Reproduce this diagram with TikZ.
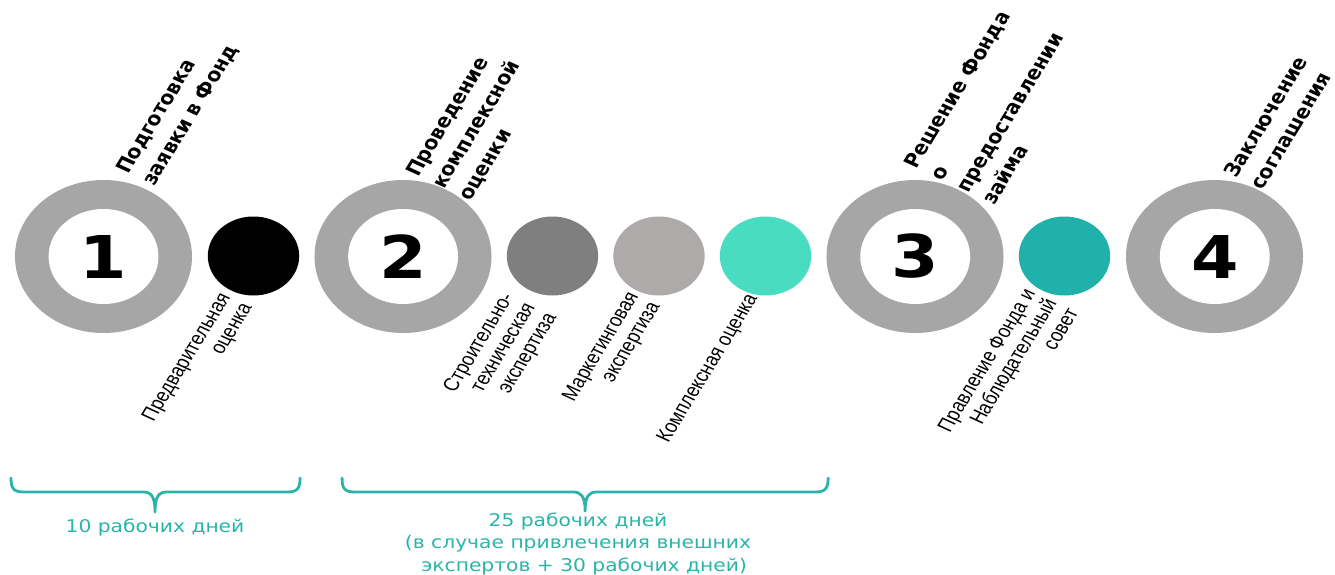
\documentclass[tikz,border=0pt]{standalone}
\usepackage{fontspec}
\setmainfont{DejaVu Sans}
\newfontfamily\labfont[FakeStretch=0.9]{Liberation Sans}
\newfontfamily\headfont[FakeStretch=1.0]{DejaVu Sans Bold}
\definecolor{ringgrey}{HTML}{A6A6A6}
\definecolor{dgrey}{HTML}{7F7F7F}
\definecolor{lgrey}{HTML}{AEAAAA}
\definecolor{aqua}{HTML}{48DDC0}
\definecolor{tealc}{HTML}{20B2AA}
\definecolor{bracec}{HTML}{2AB4A8}
\begin{document}
\begin{tikzpicture}[x=0.864304pt, y=-1pt]
\begin{scope}[xscale=1.157, every node/.append style={transform shape},
  ring/.style={circle, fill=ringgrey, minimum size=153pt, inner sep=0pt},
  hole/.style={circle, fill=white, minimum size=95pt, inner sep=0pt,
    font=\fontsize{59}{59}\selectfont\bfseries},
  dot/.style={circle, minimum size=79pt, inner sep=0pt},
  head/.style={rotate=62, anchor=base west, inner sep=0pt,
    font=\headfont\fontsize{18.5}{25.5}\selectfont},
  lab/.style={rotate=62, anchor=base east, inner sep=0pt,
    font=\labfont\fontsize{19}{21}\selectfont},
  days/.style={text=bracec, anchor=base, inner sep=0pt,
    font=\fontsize{17.5}{22.5}\selectfont},
  brace/.style={draw=bracec, line width=2.8pt, line cap=round, line join=round}]
\useasboundingbox (0,0) rectangle (1335,575);

% rings and numbers
\node[ring] (r1) at (103.5,256.5) {};
\node[hole] (n1) at (r1.center) {1};
\node[ring] (r2) at (403,256.5) {};
\node[hole] (n2) at (r2.center) {2};
\node[ring] (r3) at (915,256.5) {};
\node[hole] (n3) at (r3.center) {3};
\node[ring] (r4) at (1214.5,256.5) {};
\node[hole] (n4) at (r4.center) {4};

% small dots
\node[dot, fill=black] (d1) at (253.5,256) {};
\node[dot, fill=dgrey] (d2) at (552.5,256) {};
\node[dot, fill=lgrey] (d3) at (659,256) {};
\node[dot, fill=aqua] (d4) at (765.5,256) {};
\node[dot, fill=tealc] (d5) at (1064.5,256) {};

% headings
\node[head] (h1) at (128,175) {\begin{tabular}[t]{@{}l@{}}Подготовка\\заявки в Фонд\end{tabular}};
\node[head] (h2) at (418,178) {\begin{tabular}[t]{@{}l@{}}Проведение\\комплексной\\оценки\end{tabular}};
\node[head] (h3) at (916,170) {\begin{tabular}[t]{@{}l@{}}Решение Фонда\\о\\предоставлении\\займа\end{tabular}};
\node[head] (h4) at (1236,179) {\begin{tabular}[t]{@{}l@{}}Заключение\\соглашения\end{tabular}};

% labels
\node[lab] (l1) at (231,297) {\begin{tabular}[t]{@{}r@{}}Предварительная\\оценка\end{tabular}};
\node[lab] (l2) at (514,297) {\begin{tabular}[t]{@{}r@{}}Строительно-\\техническая\\экспертиза\end{tabular}};
\node[lab] (l3) at (639,296) {\begin{tabular}[t]{@{}r@{}}Маркетинговая\\экспертиза\end{tabular}};
\node[lab] (l4) at (758,298) {Комплексная оценка};
\node[lab] (l5) at (1036,293) {\begin{tabular}[t]{@{}r@{}}Правление Фонда и\\Наблюдательный\\совет\end{tabular}};

% braces
\coordinate (b1l) at (11,478);
\coordinate (b1t) at (155,512);
\coordinate (b1r) at (300,478);
\draw[brace] (b1l) .. controls (11,489) and (14,492) .. (24,492) -- (143,492)
  .. controls (151,492) and (155,496) .. (b1t)
  .. controls (155,496) and (159,492) .. (167,492) -- (287,492)
  .. controls (297,492) and (300,489) .. (b1r);
\coordinate (b2l) at (342,478);
\coordinate (b2t) at (585,511);
\coordinate (b2r) at (828,478);
\draw[brace] (b2l) .. controls (342,489) and (345,492) .. (355,492) -- (573,492)
  .. controls (581,492) and (585,496) .. (b2t)
  .. controls (585,496) and (589,492) .. (597,492) -- (815,492)
  .. controls (825,492) and (828,489) .. (b2r);

% durations
\node[days] (t1) at (155,532) {10 рабочих дней};
\node[days] (t2) at (578,526) {\begin{tabular}[t]{@{}c@{}}25 рабочих дней\\(в случае привлечения внешних\\\hspace*{0.6em}экспертов + 30 рабочих дней)\end{tabular}};
\end{scope}
\end{tikzpicture}
\end{document}
